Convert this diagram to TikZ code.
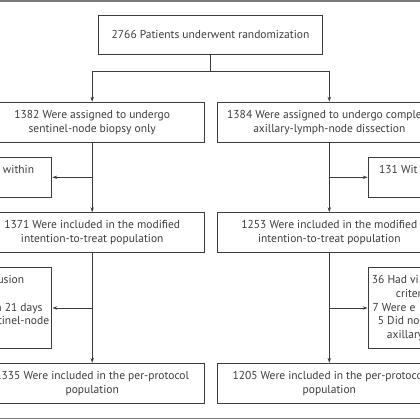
\documentclass[tikz,border=0pt]{standalone}
\usepackage{fontspec}
\setmainfont{PT Sans}
\usetikzlibrary{arrows.meta}
\definecolor{inkgray}{HTML}{3C3C3C}
\definecolor{rulegray}{HTML}{7A7A7A}
\tikzset{
  box/.style={draw=inkgray,line width=1pt,align=center,inner sep=0pt,minimum width=224,minimum height=40},
  exbox/.style={draw=inkgray,line width=1pt,inner sep=0pt,minimum width=150},
  frag/.style={inner sep=0pt,text=inkgray},
  flow/.style={draw=inkgray,line width=1pt,-{Stealth[length=5pt,width=3.4pt]}},
}
\begin{document}
\begin{tikzpicture}[x=1pt,y=-1pt,font=\fontsize{11.5}{13.9}\selectfont,text=inkgray]
\useasboundingbox (0,0) rectangle (420,420);
\clip (0,0) rectangle (420,420);
\draw[rulegray,line width=1.4pt] (0,1)--(420,1) (0,418.6)--(420,418.6);
\node[box,minimum height=39.3] (rand) at (210.5,34.7) {2766 Patients underwent randomization};
\node[box] (asgL) at (92.2,122.3) {1382 Were assigned to undergo\\sentinel-node biopsy only};
\node[box] (asgR) at (329.3,122.3) {1384 Were assigned to undergo complete\\axillary-lymph-node dissection};
\node[exbox,minimum height=40,anchor=east] (exL1) at (52.3,177.3) {};
\node[exbox,minimum height=40,anchor=west] (exR1) at (367.7,177.3) {};
\node[box,minimum height=39.6] (mitL) at (92.2,232.5) {1371 Were included in the modified\\intention-to-treat population};
\node[box,minimum height=39.6] (mitR) at (329.3,232.5) {1253 Were included in the modified\\intention-to-treat population};
\node[exbox,minimum height=80.6,anchor=east] (exL2) at (52.3,308) {};
\node[exbox,minimum height=80.6,anchor=west] (exR2) at (367.7,308) {};
\node[box,minimum height=39.7] (ppL) at (92.2,383.2) {1335 Were included in the per-protocol\\population};
\node[box,minimum height=39.7] (ppR) at (329.3,383.2) {1205 Were included in the per-protocol\\population};
\node[frag,anchor=base east] (tL1) at (34.3,173.8) {t within};
\node[frag,anchor=base west] (tR1) at (379,173.8) {131 Wit};
\node[frag,anchor=base east] (tL2a) at (24.3,283.8) {usion};
\node[frag,anchor=base east] (tL2b) at (42.7,311.3) {n 21 days};
\node[frag,anchor=base east] (tL2c) at (49.3,324.8) {tinel-node};
\node[frag,anchor=base west] (tR2a) at (371.7,283.8) {36 Had vi};
\node[frag,anchor=base west] (tR2b) at (395.7,297.8) {criter};
\node[frag,anchor=base west] (tR2c) at (372.3,311.3) {7 Were e};
\node[frag,anchor=base west] (tR2d) at (377.7,324.8) {5 Did no};
\node[frag,anchor=base west] (tR2e) at (386.7,338.8) {axillary};
\coordinate (split) at (rand.south |- 0,71);
\draw[draw=inkgray,line width=1pt] (rand.south)--(split);
\draw[flow] (split)-|(asgL);
\draw[flow] (split)-|(asgR);
\draw[flow] (asgL)--(mitL);
\draw[flow] (asgR)--(mitR);
\draw[flow] (asgL.south |- exL1.east)--(exL1);
\draw[flow] (asgR.south |- exR1.west)--(exR1);
\draw[flow] (mitL)--(ppL);
\draw[flow] (mitR)--(ppR);
\draw[flow] (mitL.south |- exL2.east)--(exL2);
\draw[flow] (mitR.south |- exR2.west)--(exR2);
\end{tikzpicture}
\end{document}
